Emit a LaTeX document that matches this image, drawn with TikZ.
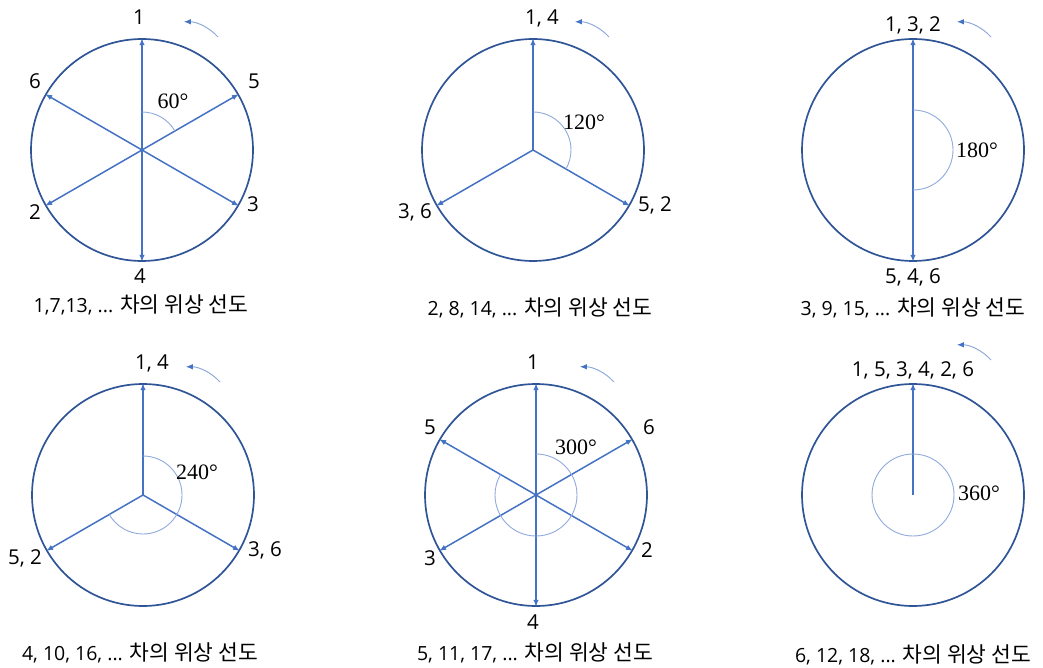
\documentclass[tikz,border=0pt]{standalone}
\usepackage{fontspec}
\setmainfont{Open Sans}
\newfontfamily\kr{Noto Sans CJK KR}
\newfontfamily\degfont{Liberation Serif}
\usetikzlibrary{arrows.meta}
\definecolor{ringblue}{HTML}{2F5597}
\definecolor{vecblue}{HTML}{4472C4}
\definecolor{arcblue}{HTML}{8FAADC}
\tikzset{
  ring/.style={circle, draw=ringblue, line width=1.7pt, minimum size=222pt, inner sep=0pt},
  vec/.style={draw=vecblue, line width=1.5pt, -{Latex[length=7pt,width=5.5pt]}},
  anglearc/.style={draw=arcblue, line width=0.9pt},
  rot/.style={draw=arcblue, line width=1pt, -{Latex[length=7pt,width=5.5pt,color=vecblue]}},
  lbl/.style={font=\fontsize{20.5}{21}\selectfont, inner sep=0pt},
  deg/.style={font=\degfont\fontsize{22}{22}\selectfont, inner sep=0pt},
  capt/.style={font=\fontsize{19.5}{20}\selectfont, inner sep=0pt},
}
\newcommand{\kor}{{\kr\fontsize{21.5}{22}\selectfont 차의 위상 선도}}
\begin{document}
\begin{tikzpicture}[x=1pt,y=1pt]
\useasboundingbox (0,0) rectangle (1043,-668);
% ---------- panel 1 ----------
\begin{scope}[shift={(142,-150)}]
  \coordinate (c1) at (0,0);
  \node[ring] (r1) at (c1) {};
  \foreach \a in {90,270,30,150,210,-30} \draw[vec] (c1) -- (r1.\a);
  \draw[anglearc] (90:38) arc[start angle=90, end angle=30, radius=38];
  \node[lbl] (l1a) at (-3,133) {1};
  \node[lbl] (l1b) at (-107,69) {6};
  \node[lbl] (l1c) at (112,69) {5};
  \node[lbl] (l1d) at (-107,-62) {2};
  \node[lbl] (l1e) at (111,-54) {3};
  \node[lbl] (l1f) at (-2,-126) {4};
  \node[deg] (d1) at (31,49) {60°};
  \coordinate (q1s) at (76,113);
  \draw[rot] (q1s) arc[start angle=42, end angle=90, radius=46];
  \node[capt] (t1) at (-1,-155) {1,7,13, ... \kor};
\end{scope}
% ---------- panel 2 ----------
\begin{scope}[shift={(533,-150)}]
  \coordinate (c2) at (0,0);
  \node[ring] (r2) at (c2) {};
  \foreach \a in {90,210,-30} \draw[vec] (c2) -- (r2.\a);
  \draw[anglearc] (90:38) arc[start angle=90, end angle=-30, radius=38];
  \node[lbl] (l2a) at (9,132) {1, 4};
  \node[lbl] (l2b) at (-118,-62) {3, 6};
  \node[lbl] (l2c) at (122,-55) {5, 2};
  \node[deg] (d2) at (51,28) {120°};
  \coordinate (q2s) at (76,113);
  \draw[rot] (q2s) arc[start angle=42, end angle=90, radius=46];
  \node[capt] (t2) at (7,-158) {2, 8, 14, ... \kor};
\end{scope}
% ---------- panel 3 ----------
\begin{scope}[shift={(913,-150)}]
  \coordinate (c3) at (0,0);
  \node[ring] (r3) at (c3) {};
  \foreach \a in {90,270} \draw[vec] (c3) -- (r3.\a);
  \draw[anglearc] (90:40) arc[start angle=90, end angle=-90, radius=40];
  \node[lbl] (l3a) at (0,125) {1, 3, 2};
  \node[lbl] (l3b) at (0,-127) {5, 4, 6};
  \node[deg] (d3) at (64,0) {180°};
  \coordinate (q3s) at (78,113);
  \draw[rot] (q3s) arc[start angle=42, end angle=90, radius=46];
  \node[capt] (t3) at (0,-158) {3, 9, 15, ... \kor};
\end{scope}
% ---------- panel 4 ----------
\begin{scope}[shift={(143,-495)}]
  \coordinate (c4) at (0,0);
  \node[ring] (r4) at (c4) {};
  \foreach \a in {90,210,-30} \draw[vec] (c4) -- (r4.\a);
  \draw[anglearc] (90:39) arc[start angle=90, end angle=-150, radius=39];
  \node[lbl] (l4a) at (9,132) {1, 4};
  \node[lbl] (l4b) at (-118,-63) {5, 2};
  \node[lbl] (l4c) at (122,-55) {3, 6};
  \node[deg] (d4) at (54,23) {240°};
  \coordinate (q4s) at (77,113);
  \draw[rot] (q4s) arc[start angle=42, end angle=90, radius=46];
  \node[capt] (t4) at (-3,-158) {4, 10, 16, ... \kor};
\end{scope}
% ---------- panel 5 ----------
\begin{scope}[shift={(536,-495)}]
  \coordinate (c5) at (0,0);
  \node[ring] (r5) at (c5) {};
  \foreach \a in {90,270,30,150,210,-30} \draw[vec] (c5) -- (r5.\a);
  \draw[anglearc] (90:41) arc[start angle=90, end angle=-210, radius=41];
  \node[lbl] (l5a) at (-3,133) {1};
  \node[lbl] (l5b) at (-106,68) {5};
  \node[lbl] (l5c) at (113,68) {6};
  \node[lbl] (l5d) at (-106,-63) {3};
  \node[lbl] (l5e) at (111,-55) {2};
  \node[lbl] (l5f) at (-3,-127) {4};
  \node[deg] (d5) at (40,48) {300°};
  \coordinate (q5s) at (78,113);
  \draw[rot] (q5s) arc[start angle=42, end angle=90, radius=46];
  \node[capt] (t5) at (-1,-158) {5, 11, 17, ... \kor};
\end{scope}
% ---------- panel 6 ----------
\begin{scope}[shift={(913,-495)}]
  \coordinate (c6) at (0,0);
  \node[ring] (r6) at (c6) {};
  \draw[vec] (c6) -- (r6.90);
  \draw[anglearc] (c6) circle[radius=41];
  \node[lbl] (l6a) at (0,125) {1, 5, 3, 4, 2, 6};
  \node[deg] (d6) at (66,2) {360°};
  \coordinate (q6s) at (78,135);
  \draw[rot] (q6s) arc[start angle=42, end angle=90, radius=46];
  \node[capt] (t6) at (0,-160) {6, 12, 18, ... \kor};
\end{scope}
\end{tikzpicture}
\end{document}
